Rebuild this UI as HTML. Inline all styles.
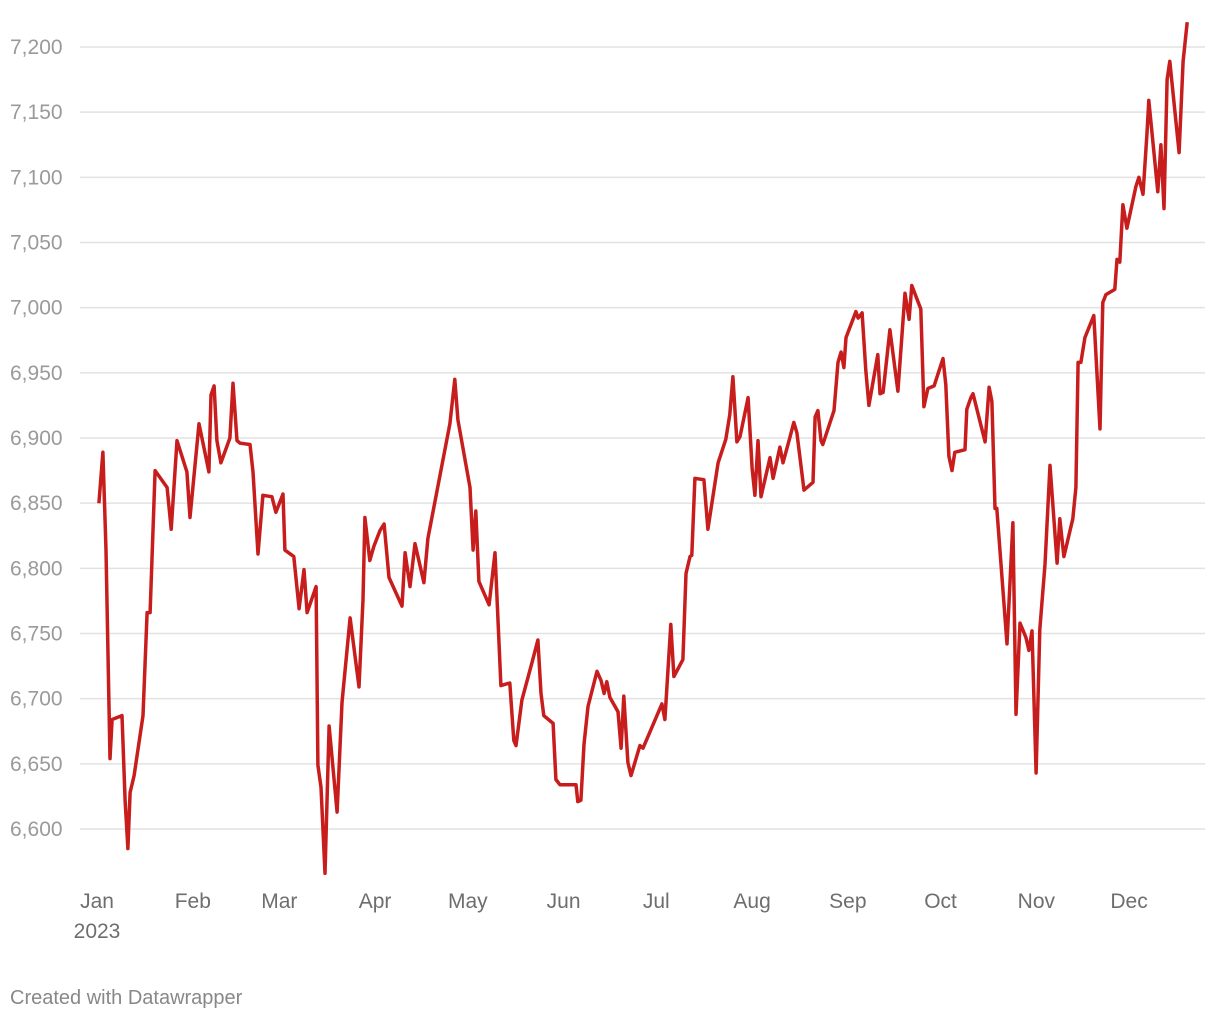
<!DOCTYPE html>
<html><head><meta charset="utf-8">
<style>
html,body{margin:0;padding:0;background:#fff;width:1220px;height:1020px;overflow:hidden;font-family:"Liberation Sans",sans-serif;}
svg text{font-family:"Liberation Sans",sans-serif;}
</style></head>
<body>
<svg id="chart" width="1220" height="1020" xmlns="http://www.w3.org/2000/svg">
<g id="grid"></g>
<g id="yaxis"></g>
<g id="xaxis"></g>
<g id="series"></g>
<text x="10" y="1004" font-size="20" fill="#888">Created with Datawrapper</text>
</svg>
<script>
// day of year 2023 (0 = Jan 1)
const days = [0.6,1.9,2.9,4.2,4.9,8.1,9.1,10,10.7,12,14.9,16.2,17.2,18.8,22.7,24,25.9,29.1,30.1,33,36.2,36.9,37.9,38.8,40.1,43,44,45.3,46.3,49.5,50.5,52.1,53.7,56.6,57.9,60.2,60.8,63.7,65.4,67,68,70.9,71.5,72.5,73.8,75.1,77.7,79.3,81.9,84.8,86.1,86.7,88.3,89.6,91.6,92.9,94.5,98.7,99.7,101.3,102.9,105.8,107.1,114.2,115.8,116.8,120.7,121.7,122.6,123.6,126.9,128.8,130.7,133.6,134.9,135.6,137.5,140.8,142.7,143.7,144.6,147.6,148.5,149.8,155,155.6,156.6,157.6,158.9,161.8,163.1,164.1,165,166,168.6,169.6,170.5,171.8,172.8,175.7,176.7,182.8,183.8,185.7,186.7,189.6,190.6,191.9,192.5,193.5,196.4,197.7,201,203.5,204.8,205.8,207.1,208.1,210.7,212,212.9,213.9,214.9,217.8,218.8,220,221,222,224.3,225.5,226.5,228.8,231.7,232.4,233.3,234.3,234.9,238.5,239.8,240.8,241.7,242.4,245.6,246.3,247.6,248.8,249.8,252.7,253.4,254.4,256.6,259.2,261.5,262.8,263.7,266.6,267.6,268.9,270.9,273.8,274.7,275.7,276.7,277.6,280.9,281.5,282.8,283.5,287.4,288.7,289.6,290.6,291.2,294.5,296.4,297.4,298.7,300.6,301.6,302.6,303.9,305.1,306.8,308.4,310.7,311.6,312.9,315.8,316.8,317.5,318.4,319.7,322.6,324.6,325.5,326.5,329.4,330.1,331,332,333.3,336.2,337.2,338.5,339.8,340.4,343.3,344.3,345.3,346.3,347.2,350.2,351.5,352.8];
const values = [6850,6889,6814,6654,6684,6687,6622,6585,6628,6641,6687,6766,6766,6875,6862,6830,6898,6874,6839,6911,6874,6933,6940,6898,6881,6900,6942,6898,6896,6895,6874,6811,6856,6855,6843,6857,6814,6809,6769,6799,6766,6786,6649,6632,6566,6679,6613,6697,6762,6709,6776,6839,6806,6817,6829,6834,6793,6771,6812,6786,6819,6789,6823,6911,6945,6914,6862,6814,6844,6790,6772,6812,6710,6712,6668,6664,6699,6728,6745,6704,6687,6681,6638,6634,6634,6621,6622,6665,6694,6721,6714,6704,6713,6701,6690,6662,6702,6651,6641,6664,6662,6696,6684,6757,6717,6730,6796,6809,6810,6869,6868,6830,6881,6899,6918,6947,6897,6901,6931,6877,6856,6898,6855,6885,6869,6882,6893,6881,6901,6912,6904,6860,6866,6916,6921,6898,6895,6921,6958,6966,6954,6977,6997,6992,6996,6952,6925,6964,6934,6935,6983,6936,7011,6991,7017,6999,6924,6938,6940,6961,6941,6886,6875,6889,6891,6922,6931,6934,6897,6939,6928,6846,6846,6742,6835,6688,6758,6747,6737,6752,6643,6753,6803,6879,6804,6838,6809,6838,6862,6958,6958,6977,6994,6907,7004,7010,7014,7037,7035,7079,7061,7093,7100,7087,7134,7159,7089,7125,7076,7175,7189,7119,7189,7219];
const yTicks = [6600,6650,6700,6750,6800,6850,6900,6950,7000,7050,7100,7150,7200];
const monthLabels = ["Jan","Feb","Mar","Apr","May","Jun","Jul","Aug","Sep","Oct","Nov","Dec"];
const monthStarts = [0,31,59,90,120,151,181,212,243,273,304,334];

const NS="http://www.w3.org/2000/svg";
function x(d){return 97+d*3.09;}
function y(v){return 47+(7200-v)*1.30334;}
const grid=document.getElementById('grid'), ya=document.getElementById('yaxis'), xa=document.getElementById('xaxis'), ser=document.getElementById('series');
yTicks.forEach(t=>{
  const l=document.createElementNS(NS,'line');
  l.setAttribute('x1',80);l.setAttribute('x2',1205);
  l.setAttribute('y1',y(t));l.setAttribute('y2',y(t));
  l.setAttribute('stroke','#e2e2e2');l.setAttribute('stroke-width','1.5');
  
  
  grid.appendChild(l);
  const tx=document.createElementNS(NS,'text');
  tx.setAttribute('x',10);tx.setAttribute('y',y(t)+7);
  tx.setAttribute('font-size','21');tx.setAttribute('fill','#9a9a9a');
  tx.textContent=t.toLocaleString('en-US');
  
  
  ya.appendChild(tx);
});
monthLabels.forEach((m,i)=>{
  const tx=document.createElementNS(NS,'text');
  tx.setAttribute('x',x(monthStarts[i]));tx.setAttribute('y',908);
  tx.setAttribute('font-size','21');tx.setAttribute('fill','#6e6e6e');
  tx.setAttribute('text-anchor','middle');
  tx.textContent=m;
  
  
  xa.appendChild(tx);
});
const yr=document.createElementNS(NS,'text');
yr.setAttribute('x',x(0));yr.setAttribute('y',938);
yr.setAttribute('font-size','21');yr.setAttribute('fill','#6e6e6e');
yr.setAttribute('text-anchor','middle');yr.textContent='2023';


xa.appendChild(yr);
const p=document.createElementNS(NS,'path');
p.setAttribute('d',days.map((d,i)=>(i?'L':'M')+x(d).toFixed(1)+','+y(values[i]).toFixed(1)).join(''));
p.setAttribute('fill','none');p.setAttribute('stroke','#c71e1d');
p.setAttribute('stroke-width','3.5');p.setAttribute('stroke-linejoin','round');


ser.appendChild(p);
</script>
</body></html>
